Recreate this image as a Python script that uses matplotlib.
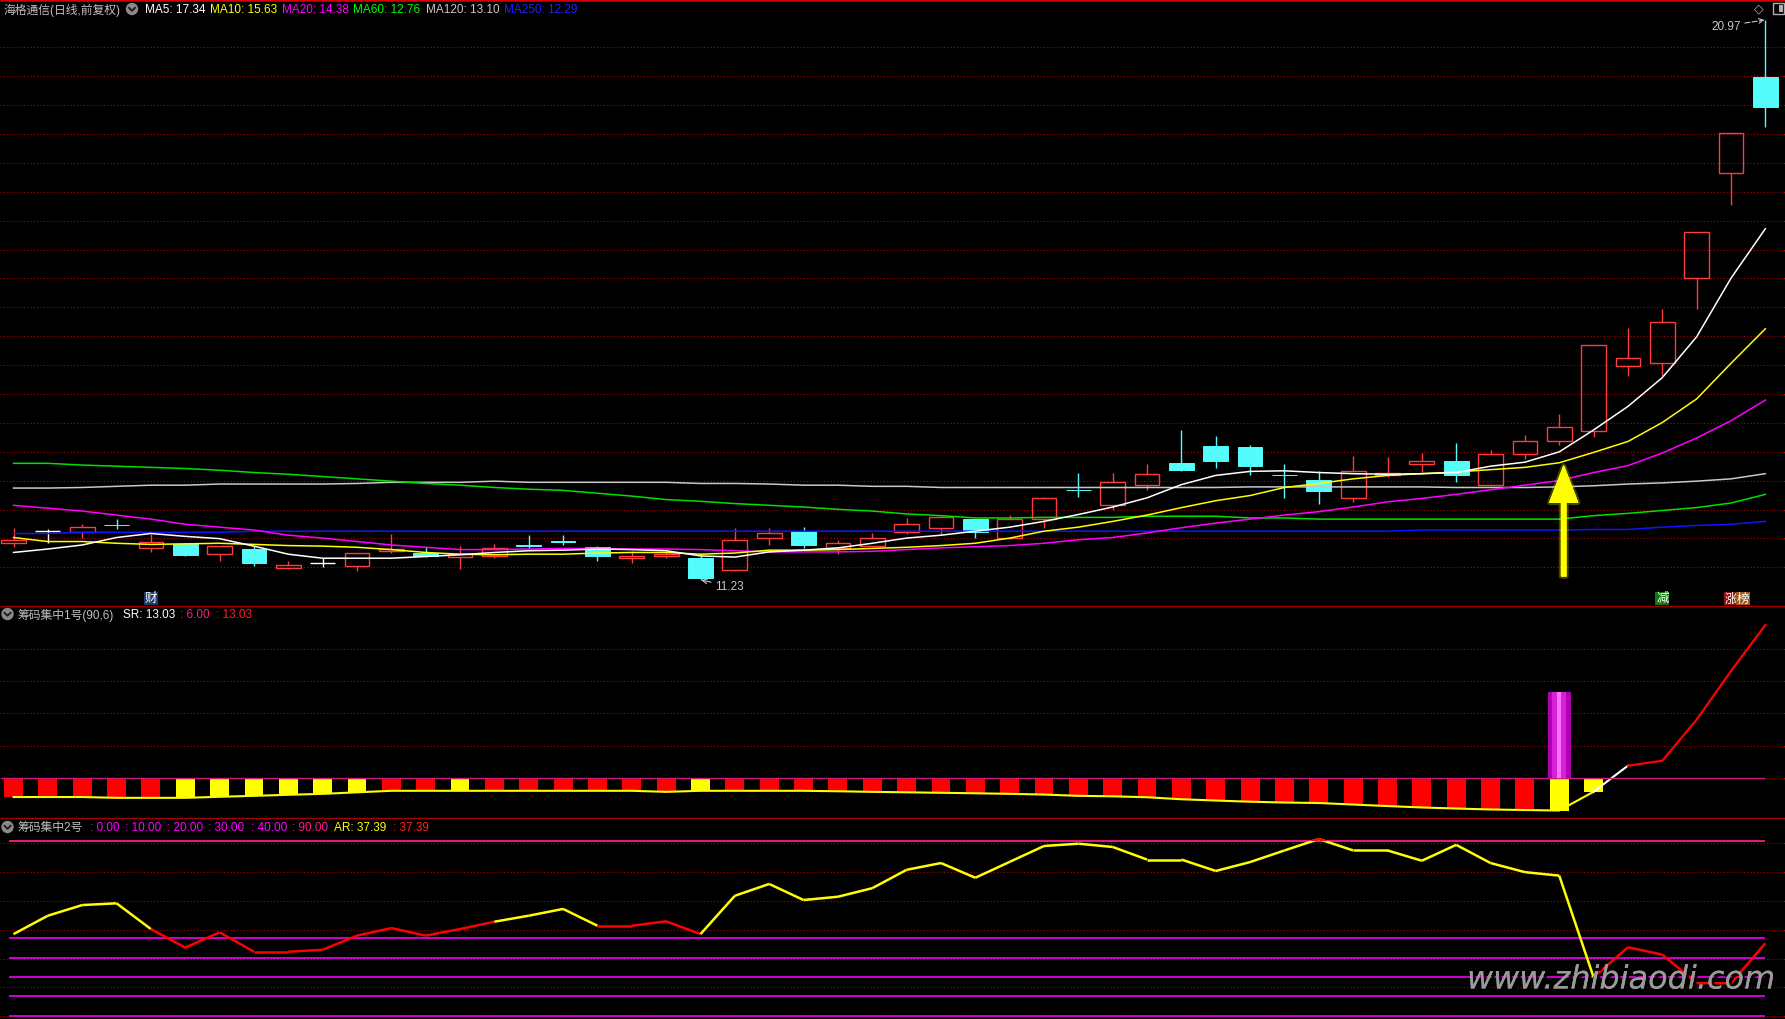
import matplotlib
matplotlib.use('Agg')
import matplotlib.pyplot as plt
import numpy as np
from matplotlib.patches import Rectangle, Circle
from matplotlib.collections import LineCollection
import matplotlib.patheffects as pe

plt.rcParams['font.family'] = ['Liberation Sans', 'Noto Sans CJK SC', 'DejaVu Sans']
plt.rcParams['lines.scale_dashes'] = False

# ---------------- data ----------------
opens = [11.88, 12.08, 12.07, 12.19, 11.79, 11.85, 11.69, 11.77, 11.44, 11.52,
         11.48, 11.74, 11.70, 11.63, 11.64, 11.84, 11.91, 11.81, 11.61, 11.64,
         11.61, 11.41, 11.96, 12.08, 11.78, 11.83, 12.07, 12.14, 12.29, 11.96,
         12.29, 12.80, 12.54, 12.88, 13.27, 13.56, 13.54, 13.06, 12.97, 12.65,
         13.06, 13.24, 13.30, 12.88, 13.42, 13.64, 13.82, 14.96, 15.00, 16.48,
         18.31, 19.98]
highs = [12.14, 12.11, 12.21, 12.29, 12.03, 11.87, 11.83, 11.82, 11.56, 11.61,
         11.70, 12.03, 11.81, 11.82, 11.85, 12.01, 12.01, 11.82, 11.74, 11.74,
         11.67, 12.14, 12.14, 12.15, 11.93, 12.04, 12.31, 12.35, 12.30, 12.37,
         12.67, 13.09, 13.09, 13.25, 13.84, 13.74, 13.58, 13.24, 13.13, 13.39,
         13.37, 13.44, 13.61, 13.49, 13.75, 14.11, 15.31, 15.61, 15.94, 17.28,
         19.01, 20.97]
lows = [11.81, 11.88, 11.96, 12.11, 11.72, 11.64, 11.57, 11.48, 11.43, 11.46,
        11.39, 11.70, 11.63, 11.43, 11.62, 11.77, 11.84, 11.57, 11.52, 11.61,
        11.23, 11.38, 11.84, 11.78, 11.68, 11.82, 12.03, 12.03, 11.96, 11.95,
        12.14, 12.68, 12.44, 12.80, 13.13, 13.18, 13.05, 12.66, 12.55, 12.59,
        13.02, 13.11, 12.94, 12.87, 13.34, 13.58, 13.72, 14.78, 14.78, 15.95,
        17.75, 19.11]
closes = [11.93, 12.08, 12.15, 12.18, 11.89, 11.67, 11.82, 11.53, 11.49, 11.52,
          11.70, 11.77, 11.65, 11.68, 11.78, 11.83, 11.90, 11.65, 11.64, 11.68,
          11.27, 11.92, 12.05, 11.84, 11.87, 11.96, 12.20, 12.33, 12.07, 12.29,
          12.65, 12.79, 12.94, 13.07, 13.15, 13.30, 13.22, 13.05, 12.78, 13.12,
          13.09, 13.30, 13.05, 13.43, 13.64, 13.90, 15.31, 15.09, 15.71, 17.28,
          19.01, 19.45]

ma5 = [11.71, 11.77, 11.84, 11.97, 12.04, 11.99, 11.95, 11.82, 11.68, 11.61,
       11.61, 11.61, 11.64, 11.67, 11.71, 11.74, 11.75, 11.77, 11.76, 11.74,
       11.65, 11.63, 11.72, 11.75, 11.79, 11.87, 11.96, 12.01, 12.08, 12.15,
       12.25, 12.37, 12.50, 12.66, 12.89, 13.05, 13.12, 13.13, 13.10, 13.08,
       13.07, 13.08, 13.10, 13.21, 13.28, 13.46, 13.84, 14.25, 14.75, 15.46,
       16.48, 17.34]
ma10 = [11.97, 11.90, 11.90, 11.87, 11.85, 11.86, 11.87, 11.85, 11.83, 11.82,
        11.80, 11.76, 11.71, 11.68, 11.67, 11.68, 11.68, 11.70, 11.71, 11.71,
        11.68, 11.70, 11.75, 11.75, 11.76, 11.78, 11.80, 11.83, 11.87, 11.96,
        12.08, 12.15, 12.25, 12.36, 12.49, 12.61, 12.70, 12.84, 12.91, 12.99,
        13.05, 13.08, 13.11, 13.15, 13.19, 13.27, 13.45, 13.64, 13.97, 14.38,
        15.00, 15.60]
ma20 = [12.53, 12.48, 12.43, 12.36, 12.29, 12.20, 12.15, 12.10, 12.01, 11.96,
        11.90, 11.84, 11.80, 11.76, 11.76, 11.77, 11.78, 11.78, 11.77, 11.77,
        11.76, 11.74, 11.72, 11.72, 11.72, 11.73, 11.76, 11.79, 11.81, 11.83,
        11.87, 11.93, 11.97, 12.05, 12.14, 12.22, 12.29, 12.36, 12.42, 12.50,
        12.59, 12.65, 12.72, 12.80, 12.88, 12.96, 13.10, 13.22, 13.44, 13.70,
        14.00, 14.36]
ma60 = [13.26, 13.26, 13.23, 13.21, 13.19, 13.17, 13.14, 13.10, 13.07, 13.03,
        12.99, 12.95, 12.91, 12.88, 12.84, 12.81, 12.79, 12.74, 12.69, 12.63,
        12.60, 12.56, 12.53, 12.50, 12.46, 12.43, 12.38, 12.35, 12.31, 12.31,
        12.32, 12.32, 12.32, 12.34, 12.34, 12.34, 12.31, 12.31, 12.29, 12.29,
        12.29, 12.29, 12.29, 12.29, 12.29, 12.29, 12.35, 12.39, 12.44, 12.49,
        12.57, 12.72]
ma120 = [12.83, 12.83, 12.84, 12.86, 12.88, 12.88, 12.90, 12.90, 12.90, 12.90,
         12.91, 12.93, 12.93, 12.93, 12.95, 12.93, 12.93, 12.93, 12.93, 12.93,
         12.91, 12.91, 12.90, 12.88, 12.88, 12.86, 12.86, 12.84, 12.84, 12.84,
         12.84, 12.84, 12.84, 12.84, 12.84, 12.84, 12.85, 12.85, 12.85, 12.85,
         12.85, 12.85, 12.84, 12.84, 12.84, 12.85, 12.87, 12.90, 12.92, 12.95,
         12.99, 13.08]
ma250 = [12.04, 12.04, 12.06, 12.06, 12.06, 12.06, 12.06, 12.08, 12.08, 12.08,
         12.08, 12.08, 12.08, 12.08, 12.08, 12.08, 12.08, 12.08, 12.08, 12.08,
         12.08, 12.08, 12.08, 12.08, 12.08, 12.08, 12.08, 12.08, 12.08, 12.08,
         12.08, 12.08, 12.08, 12.08, 12.08, 12.08, 12.08, 12.08, 12.08, 12.08,
         12.08, 12.10, 12.10, 12.10, 12.10, 12.10, 12.11, 12.11, 12.15, 12.18,
         12.20, 12.25]

# panel 2 : 筹码集中1号
sr_line = [-1.62, -1.62, -1.62, -1.69, -1.69, -1.69, -1.60, -1.52, -1.43, -1.35,
           -1.22, -1.09, -1.09, -1.09, -1.09, -1.09, -1.09, -1.09, -1.09, -1.18,
           -1.09, -1.09, -1.09, -1.09, -1.13, -1.18, -1.22, -1.26, -1.30, -1.35,
           -1.41, -1.52, -1.56, -1.64, -1.81, -1.92, -2.02, -2.09, -2.13, -2.26,
           -2.39, -2.51, -2.60, -2.68, -2.73, -2.77, -1.17, 1.05, 1.47, 4.97,
           9.11, 13.03]
sr_bar_kind = "RRRRR" + "YYYYYY" + "RR" + "Y" + "RRRRRR" + "Y" + "RRRRRRRRRRRRRRRRRRRRRRRR" + "YY" + "-----"
signal_idx = 45
signal_height = 7.33

# panel 3 : 筹码集中2号
ar_vals = [42.1, 51.6, 57.1, 58.0, 44.7, 35.1, 43.0, 33.0, 33.0, 34.0,
           41.3, 45.2, 41.3, 44.7, 48.5, 51.6, 55.1, 46.4, 46.4, 48.7,
           42.1, 61.9, 68.0, 59.7, 61.4, 65.8, 75.3, 78.8, 71.2, 79.4,
           87.6, 88.8, 87.1, 80.6, 80.6, 74.7, 79.3, 85.3, 91.2, 85.3,
           85.3, 80.0, 88.2, 78.8, 74.1, 72.3, 19.8, 35.3, 31.5, 16.8,
           16.7, 37.39]
ar_seg_kind = "YYYY" + "RRRRRRRRRR" + "YYY" + "RRR" + "YYYYYYYYYYYYYYYYYYYYYYYYYY" + "RRRRR"
ar_levels = [0, 10, 20, 30, 40, 90]

arrow_x = 45.13
arrow_tip, arrow_base = 13.21, 11.30

# ---------------- figure ----------------
W, H = 1785, 1020
fig = plt.figure(figsize=(W / 100, H / 100), dpi=100, facecolor='black')

SP = 34.35
X0 = 13.5
XLIM = ((0 - X0) / SP, (W - X0) / SP)
n = len(closes)
x = np.arange(n)


def add_panel(top, bot, ylim):
    ax = fig.add_axes([0, (H - bot) / H, 1, (bot - top) / H])
    ax.set_facecolor('black')
    ax.set_axis_off()
    ax.set_xlim(*XLIM)
    ax.set_ylim(*ylim)
    return ax


def px_to_val(ypx, top, bot, ylim):
    return ylim[1] - (ypx - top) / (bot - top) * (ylim[1] - ylim[0])


GRID_C = '#b00000'
GRID_LS = (0, (0.8, 1.6))

# ---------- panel 1 ----------
P1 = (2, 607)
Y1 = (10.779, 21.30)
ax1 = add_panel(P1[0], P1[1], Y1)
for k in range(19):
    ax1.axhline(px_to_val(48.3 + 28.89 * k, P1[0], P1[1], Y1), color=GRID_C, lw=0.8, ls=GRID_LS, zorder=1)

UP, DN, EQ = '#ff3c3c', '#54fcfc', '#ffffff'
bw = 0.72
for i in range(n):
    o, h, l, c = opens[i], highs[i], lows[i], closes[i]
    if c > o:
        ax1.vlines(i, c, h, color=UP, lw=1, zorder=2)
        ax1.vlines(i, l, o, color=UP, lw=1, zorder=2)
        ax1.add_patch(Rectangle((i - bw / 2, o), bw, c - o, fill=False, ec=UP, lw=1.0, zorder=2))
    elif c < o:
        ax1.vlines(i, l, h, color=DN, lw=1, zorder=2)
        ax1.add_patch(Rectangle((i - bw / 2, c), bw, o - c, fc=DN, ec=DN, lw=0.7, zorder=2))
    else:
        ax1.vlines(i, l, h, color=EQ, lw=1, zorder=2)
        ax1.hlines(o, i - bw / 2, i + bw / 2, color=EQ, lw=1, zorder=2)

for vals, col in [(ma250, '#1414ff'), (ma120, '#c8c8c8'), (ma60, '#00e000'),
                  (ma20, '#ff00ff'), (ma10, '#ffff00'), (ma5, '#ffffff')]:
    ax1.plot(x, vals, color=col, lw=1.1, zorder=3)

# signal arrow
ann = ax1.annotate('', xy=(arrow_x, arrow_tip), xytext=(arrow_x, arrow_base),
                   arrowprops=dict(facecolor='#ffff00', edgecolor='#ffff00', width=3.2,
                                   headwidth=20, headlength=26, shrink=0), zorder=5)
ann.arrow_patch.set_path_effects([pe.withStroke(linewidth=4, foreground=(1, 1, 0, 0.25)), pe.Normal()])

# max / min labels
imax = int(np.argmax(highs))
imin = int(np.argmin(lows))
ax1.annotate(f'{highs[imax]:.2f}', xy=(imax - 0.02, highs[imax]), xytext=(-24, -6),
             textcoords='offset pixels', ha='right', va='center', color='#c8c8c8', fontsize=8.5,
             arrowprops=dict(arrowstyle='->', color='#c8c8c8', lw=0.8, linestyle='--',
                             shrinkA=1, shrinkB=0), annotation_clip=False, zorder=6)
ax1.annotate(f'{lows[imin]:.2f}', xy=(imin + 0.02, lows[imin]), xytext=(14, -6),
             textcoords='offset pixels', ha='left', va='center', color='#c8c8c8', fontsize=8.5,
             arrowprops=dict(arrowstyle='->', color='#c8c8c8', lw=0.8, shrinkA=1, shrinkB=0),
             annotation_clip=False, zorder=6)

# event markers
tr = ax1.get_xaxis_transform()
for xi, s, fc in [(4, '财', '#1c3c6c'), (48, '减', '#0d7a0d'), (50, '涨', '#8a1414'), (50.36, '榜', '#9a5a18')]:
    ax1.text(xi, 0.0125, s, transform=tr, ha='center', va='center', fontsize=9, color='white',
             bbox=dict(boxstyle='square,pad=0.06', fc=fc, ec='none'), zorder=6)

# ---------- panel 2 ----------
P2 = (607, 819)
Y2 = (-3.407, 14.651)
ax2 = add_panel(P2[0], P2[1], Y2)
for k in range(5):
    ax2.axhline(px_to_val(649.5 + 32.4 * k, P2[0], P2[1], Y2), color=GRID_C, lw=0.8, ls=GRID_LS, zorder=1)
kind_col = {'R': '#ff0000', 'Y': '#ffff00'}
for i in range(n):
    k = sr_bar_kind[i]
    if k in kind_col:
        ax2.bar(i, sr_line[i], width=0.55, bottom=0, color=kind_col[k], zorder=2)
ax2.plot(x[:47], sr_line[:47], color='#ffff00', lw=1.5, zorder=3)
ax2.plot(x[46:48], sr_line[46:48], color='#ffffff', lw=1.5, zorder=3)
ax2.plot(x[47:], sr_line[47:], color='#ff0000', lw=1.6, zorder=3)
ax2.hlines(0, -0.35, n - 1, color='#d01878', lw=1.0, zorder=4)
ax2.bar(signal_idx, signal_height, width=0.67, bottom=0, color='#b000b0', zorder=4)
ax2.bar(signal_idx, signal_height, width=0.40, bottom=0, color='#d820d8', zorder=4)
ax2.bar(signal_idx, signal_height, width=0.12, bottom=0, color='#ff70ff', zorder=4)

# ---------- panel 3 ----------
P3 = (819, 1020)
Y3 = (-1.756, 102.066)
ax3 = add_panel(P3[0], P3[1], Y3)
for k in range(7):
    ax3.axhline(px_to_val(844.3 + 28.8 * k, P3[0], P3[1], Y3), color=GRID_C, lw=0.8, ls=GRID_LS, zorder=1)
for lv in ar_levels:
    ax3.hlines(lv, -0.13, n - 1, color='#ff1a8c' if lv == 90 else '#e000e0', lw=1.3, zorder=2)
pts = np.column_stack([x, ar_vals])
segs = [pts[i:i + 2] for i in range(n - 1)]
seg_cols = ['#ffff00' if s == 'Y' else '#ff0000' for s in ar_seg_kind]
ax3.add_collection(LineCollection(segs, colors=seg_cols, linewidths=1.8, zorder=3))
over, = ax3.plot(x, ar_vals, color='#ff0000', lw=1.8, zorder=4)
over.set_clip_path(Rectangle((x[0], 90), n, 30, transform=ax3.transData))

# ---------- overlay (texts, frames) ----------
axo = fig.add_axes([0, 0, 1, 1], zorder=10)
axo.set_xlim(0, W)
axo.set_ylim(H, 0)
axo.set_axis_off()
axo.patch.set_alpha(0)

axo.hlines(1, 0, W, color='#d00000', lw=1.8)
axo.hlines([607, 819], 0, W, color='#a00000', lw=1.0)


def icon(cx, cy):
    axo.add_patch(Circle((cx, cy), 5.5, color='#8a8a8a'))
    axo.plot([cx - 3, cx, cx + 3], [cy - 1.2, cy + 1.8, cy - 1.2], color='#1a1a1a', lw=1.3)


FS = 8.5
for xp, s, col in [(3, '海格通信(日线,前复权)', '#c0c0c0'), (145, 'MA5: 17.34', '#ffffff'),
                   (210, 'MA10: 15.63', '#ffff00'), (282, 'MA20: 14.38', '#ff00ff'),
                   (353, 'MA60: 12.76', '#00ff00'), (426, 'MA120: 13.10', '#c8c8c8'),
                   (504, 'MA250: 12.29', '#2020ff')]:
    axo.text(xp, 10, s, color=col, fontsize=FS, ha='left', va='center')
icon(132, 10)

icon(7.5, 615)
for xp, s, col in [(17, '筹码集中1号(90,6)', '#c0c0c0'), (123, 'SR: 13.03', '#ffffff'),
                   (180, ': 6.00', '#ff1a8c'), (216, ': 13.03', '#ff2020')]:
    axo.text(xp, 615, s, color=col, fontsize=FS, ha='left', va='center')

icon(7.5, 828)
for xp, s, col in [(17, '筹码集中2号', '#c0c0c0'), (90, ': 0.00', '#ff00ff'),
                   (125, ': 10.00', '#ff00ff'), (167, ': 20.00', '#ff00ff'),
                   (208, ': 30.00', '#ff00ff'), (251, ': 40.00', '#ff00ff'),
                   (292, ': 90.00', '#ff1a8c'), (334, 'AR: 37.39', '#ffff00'),
                   (393, ': 37.39', '#ff2020')]:
    axo.text(xp, 828, s, color=col, fontsize=FS, ha='left', va='center')

# top-right icons
axo.text(1759, 9, '◇', color='#b0b0b0', fontsize=9, ha='center', va='center', family='DejaVu Sans')
axo.add_patch(Rectangle((1773, 4), 11, 11, fill=False, ec='#b0b0b0', lw=1.0))
axo.add_patch(Rectangle((1778.5, 6), 4, 7, fc='#b0b0b0', ec='none'))

# watermark
axo.text(1467, 981, 'www.zhibiaodi.com', fontsize=23, style='italic', family='DejaVu Sans',
         color='#9a9a9a', ha='left', va='center',
         path_effects=[pe.withSimplePatchShadow(offset=(2, -2), shadow_rgbFace='black', alpha=0.9),
                       pe.Normal()])

fig.savefig('out.png', dpi=100, facecolor='black')
